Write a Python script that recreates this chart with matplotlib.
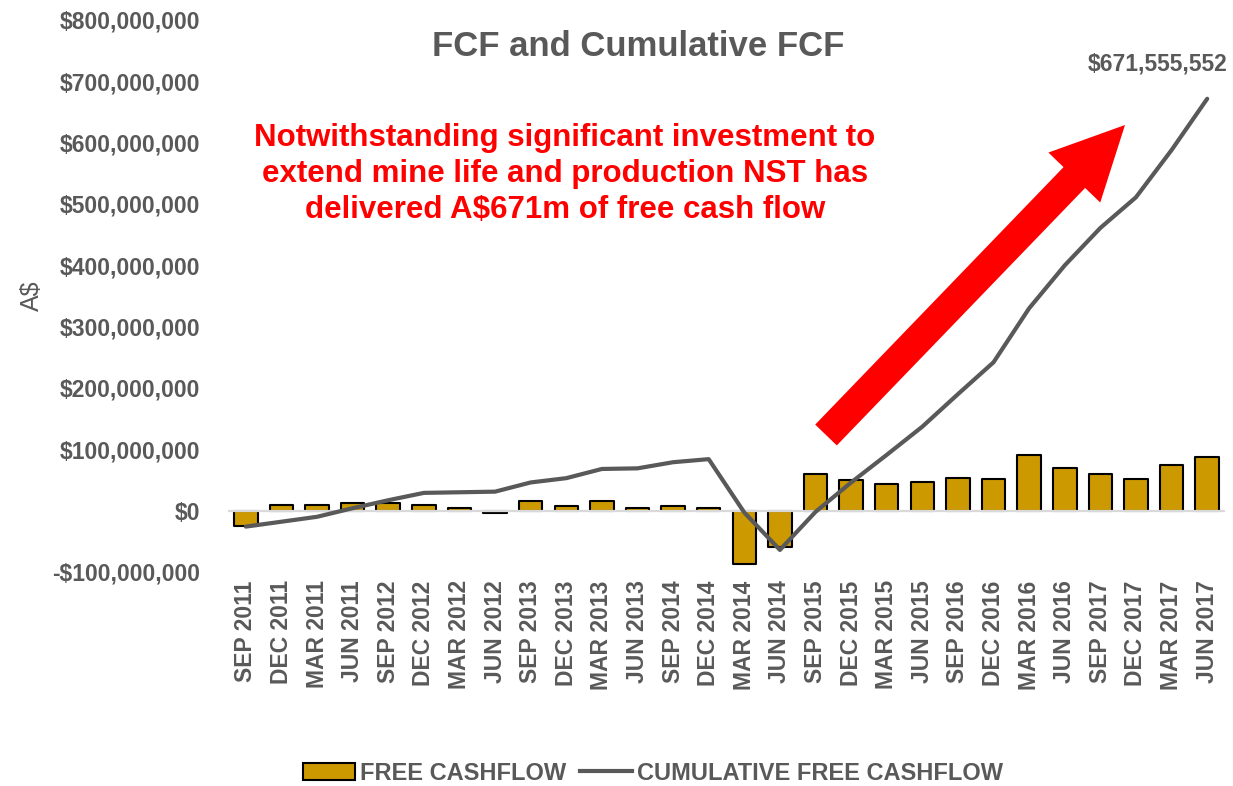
import matplotlib
matplotlib.use("Agg")
import matplotlib.pyplot as plt
from matplotlib.patches import FancyArrow, Patch
from matplotlib.lines import Line2D
from matplotlib.ticker import FuncFormatter
import matplotlib.transforms as mtransforms

plt.rcParams["font.family"] = ["Liberation Sans", "DejaVu Sans"]

quarters = ["SEP 2011", "DEC 2011", "MAR 2011", "JUN 2011",
            "SEP 2012", "DEC 2012", "MAR 2012", "JUN 2012",
            "SEP 2013", "DEC 2013", "MAR 2013", "JUN 2013",
            "SEP 2014", "DEC 2014", "MAR 2014", "JUN 2014",
            "SEP 2015", "DEC 2015", "MAR 2015", "JUN 2015",
            "SEP 2016", "DEC 2016", "MAR 2016", "JUN 2016",
            "SEP 2017", "DEC 2017", "MAR 2017", "JUN 2017"]

# quarterly free cashflow, A$
fcf = [-25e6, 9e6, 9e6, 12e6, 12e6, 9e6, 4e6, -3e6,
       15e6, 7e6, 15e6, 4e6, 7e6, 5e6, -87e6, -59e6,
       60e6, 50e6, 43e6, 46e6, 53e6, 52e6, 90e6, 70e6,
       60e6, 52e6, 75e6, 87e6]

# running total, A$
cum_fcf = [-26e6, -18e6, -10e6, 4e6, 17e6, 29e6, 30e6, 31e6,
           46e6, 53e6, 68e6, 69e6, 79e6, 84e6, -3e6, -64e6,
           -2e6, 46e6, 91e6, 137e6, 190e6, 242e6, 330e6, 400e6,
           461e6, 511e6, 588e6, 671555552]

GREY = "#595959"
GOLD = "#CC9900"
W, H = 1233, 786

fig = plt.figure(figsize=(W / 100, H / 100), dpi=100)
ax = fig.add_axes([228 / W, 1 - 572 / H, (1225 - 228) / W, (572 - 20) / H])

x = list(range(len(quarters)))
ax.bar(x, fcf, width=0.66, color=GOLD, edgecolor="black", linewidth=1.5,
       joinstyle="round", zorder=2)
ax.axhline(0, color="#d9d9d9", linewidth=1.6, zorder=3)
ax.plot(x, cum_fcf, color=GREY, linewidth=3, solid_capstyle="round",
        zorder=4)

ax.set_xlim(-0.5, len(quarters) - 0.5)
ax.set_ylim(-100e6, 800e6)
ax.set_yticks([v * 1e8 for v in range(-1, 9)])
ax.yaxis.set_major_formatter(FuncFormatter(
    lambda v, _: f"-${abs(v):,.0f}" if v < 0 else f"${v:,.0f}"))
ax.set_xticks(x)
ax.set_xticklabels(quarters, rotation=90)
for lab in ax.get_xticklabels() + ax.get_yticklabels():
    lab.set_fontweight("bold")
    lab.set_color(GREY)
    lab.set_fontsize(16.5)
ax.tick_params(axis="y", length=0, pad=20)
ax.tick_params(axis="x", length=0, pad=6)
for sp in ax.spines.values():
    sp.set_visible(False)

ax.set_ylabel("A$", fontsize=18, color=GREY, labelpad=6)

# closing value callout
ax.annotate(f"${cum_fcf[-1]:,.0f}", (x[-1], cum_fcf[-1]),
            xytext=(-36, 17), textcoords="offset points", ha="center",
            va="bottom", fontsize=16.5, fontweight="bold", color=GREY,
            annotation_clip=False)

fig.text(638 / W, 1 - 47 / H, "FCF and Cumulative FCF", ha="center",
         va="center", fontsize=25, fontweight="bold", color=GREY)

fig.text(565 / W, 1 - 174 / H,
         "Notwithstanding significant investment to\n"
         "extend mine life and production NST has\n"
         "delivered A$671m of free cash flow",
         ha="center", va="center", fontsize=22.5, fontweight="bold",
         color="#FF0000", linespacing=1.28)

# big red arrow, laid out in pixel units from the top-left corner
px = mtransforms.Affine2D().scale(1 / W, -1 / H).translate(0, 1) \
    + fig.transFigure
tail = (826, 435)
tip = (1125, 125)
fig.patches.append(FancyArrow(
    tail[0], tail[1], tip[0] - tail[0], tip[1] - tail[1],
    width=30, head_width=72, head_length=73, length_includes_head=True,
    color="#FF0000", linewidth=0, transform=px, figure=fig))

handles = [Patch(facecolor=GOLD, edgecolor="black", linewidth=1.5),
           Line2D([], [], color=GREY, linewidth=3)]
leg = fig.legend(handles, ["FREE CASHFLOW", "CUMULATIVE FREE CASHFLOW"],
                 loc="center", bbox_to_anchor=(653 / W, 1 - 773 / H),
                 ncol=2, frameon=False, handlelength=2.2,
                 handletextpad=0.2, columnspacing=0.6,
                 prop={"weight": "bold", "size": 17})
for t in leg.get_texts():
    t.set_color(GREY)

fig.savefig("out.png", dpi=100, facecolor="white")
